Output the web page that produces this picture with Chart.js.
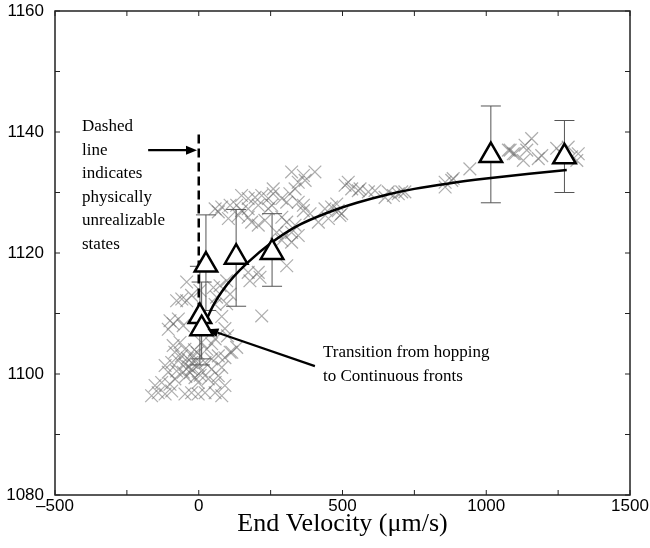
<!DOCTYPE html>
<html>
<head>
<meta charset="utf-8">
<script src="https://cdn.jsdelivr.net/npm/chart.js@4"></script>
<style>
  body { margin: 0; background: #fff; }
  canvas { display: block; }
</style>
</head>
<body>
<canvas id="chart" width="650" height="548"></canvas>
<script>
// axis ticks
const xTickValues = [-500, 0, 500, 1000, 1500];
const xTickLabels = ['\u2013500', '0', '500', '1000', '1500'];
const yTickValues = [1080, 1100, 1120, 1140, 1160];
const yTickLabels = ['1080', '1100', '1120', '1140', '1160'];

// averaged points (triangles) with error bars
const triX = [4, 10, 25, 130, 255, 1016, 1272];
const triY = [1109.5, 1107.5, 1118, 1119.3, 1120.1, 1136.1, 1135.9];
const errLow = [1101.5, 1102.5, 1110.5, 1111.2, 1114.5, 1128.3, 1130.0];
const errHigh = [1117.8, 1115.2, 1126.3, 1127.2, 1126.5, 1144.3, 1141.9];

// fitted curve
const fitX = [18, 30, 50, 80, 120, 170, 250, 340, 450, 550, 650, 750, 870, 1000, 1150, 1280];
const fitY = [1108.2, 1109.3, 1111.3, 1113.6, 1116.0, 1118.4, 1121.6, 1124.4, 1126.7, 1128.3, 1129.6, 1130.6, 1131.5, 1132.3, 1133.1, 1133.7];

// dashed line at zero velocity
const dashX = [0, 0];
const dashY = [1108, 1140];

// raw measurements (gray crosses)
const crossX = [
  -59, -42, -25, -106, -89, -71, -54, -89, -65, -48, -83,
  -117, -94, -71, -48, -25, -2, 22, 45, 68, 91, 115,
  -106, -77, -54, -25, 10, 45, 80, -83, -13, 33, 68,
  -152, -129, -100, -164, -141, -117, -94, -48, -25, -2, 22, 57, 80,
  -2, 57, 91, 10, 28, 45, 57, 109, 132,
  -40, -20, -10, -35, -5, -60, -30, 5, -45, -15,
  -77, -100, -42, 4, 51, 62, 109, 97, 74, 97, 172, 207, 213, 178, 306, 289, 323, 346,
  57, 91, 80, 100, 219,
  323, 364, 404, 346, 370, 259, 259, 335, 317, 149, 172, 196, 219, 242, 289, 306, 346, 364,
  80, 109, 132, 149, 172, 207, 242, 254, 103, 138, 172, 184, 207, 230, 289, 306, 335, 364, 387,
  271, 300, 323, 439, 462, 485, 416, 451, 491, 509, 532, 555, 520, 590, 613, 659, 694, 717,
  857, 880, 57, 68, 480, 497, 561, 648, 677, 706, 857, 885, 943,
  1083, 1100, 1129, 1141, 1077, 1094, 1135, 1158, 1181, 1193, 1245, 1262, 1285, 1297, 1315, 1320
];
const crossY = [
  1112.4, 1112.1, 1113.0, 1107.4, 1108.3, 1109.1, 1108.0, 1104.7, 1105.2, 1104.1, 1103.6,
  1101.4, 1101.9, 1102.2, 1101.6, 1101.9, 1101.4, 1101.9, 1102.5, 1103.0, 1102.7, 1103.6,
  1100.3, 1100.5, 1100.3, 1100.8, 1100.5, 1100.8, 1101.1, 1099.2, 1099.4, 1099.2, 1099.7,
  1098.1, 1098.6, 1098.3, 1096.4, 1096.9, 1096.7, 1097.2, 1096.7, 1096.9, 1096.7, 1096.9, 1096.9, 1096.4,
  1098.6, 1098.6, 1098.1, 1105.2, 1104.1, 1105.0, 1105.8, 1103.6, 1104.4,
  1102.6, 1103.1, 1102.2, 1101.2, 1103.5, 1103.0, 1100.2, 1099.8, 1099.6, 1104.0,
  1112.1, 1108.8, 1115.2, 1113.8, 1114.3, 1112.7, 1113.2, 1111.6, 1114.6, 1115.4, 1116.8, 1116.8, 1116.0, 1115.4, 1117.9, 1122.1, 1123.4, 1122.9,
  1111.5, 1107.5, 1109.5, 1106.3, 1109.6,
  1133.4, 1132.8, 1133.4, 1131.7, 1132.0, 1130.6, 1129.8, 1130.6, 1129.8, 1129.5, 1129.0, 1129.2, 1129.5, 1129.0, 1129.0, 1128.4, 1128.4, 1127.9,
  1127.6, 1127.9, 1127.9, 1127.0, 1127.3, 1127.9, 1127.3, 1127.9, 1125.7, 1126.2, 1125.9, 1125.1, 1124.6, 1125.4, 1125.9, 1125.1, 1124.6, 1127.0, 1126.5,
  1123.4, 1122.9, 1121.8, 1127.3, 1127.6, 1127.0, 1125.1, 1125.7, 1126.2, 1131.2, 1130.6, 1130.3, 1131.7, 1130.1, 1130.3, 1130.1, 1129.8, 1130.1,
  1131.7, 1132.0, 1127.3, 1126.8, 1128.1, 1126.5, 1130.6, 1129.2, 1129.5, 1130.1, 1130.9, 1132.3, 1133.9,
  1137.0, 1136.4, 1135.3, 1137.0, 1137.0, 1136.4, 1137.8, 1138.9, 1135.6, 1136.1, 1137.3, 1136.4, 1137.5, 1135.9, 1135.3, 1136.4
];

const noteLeft = ['Dashed', 'line', 'indicates', 'physically', 'unrealizable', 'states'];
const noteRight = ['Transition from hopping', 'to Continuous fronts'];
const xTitle = 'End Velocity (\u03bcm/s)';

// annotation layout (data units)
const arrows = [
  { from: [-176, 1137], to: [-6, 1137] },
  { from: [404, 1101.3], to: [30, 1107.4] }
];

const toPts = (xs, ys) => xs.map((v, i) => ({ x: v, y: ys[i] }));

const decor = {
  id: 'decor',
  afterDatasetDraw(chart, args) {
    if (args.index !== 3) return;
    const { ctx, scales: { x, y } } = chart;
    ctx.save();
    ctx.strokeStyle = '#555';
    ctx.lineWidth = 1;
    triX.forEach((v, i) => {
      const px = x.getPixelForValue(v);
      const lo = y.getPixelForValue(errLow[i]);
      const hi = y.getPixelForValue(errHigh[i]);
      ctx.beginPath();
      ctx.moveTo(px, lo); ctx.lineTo(px, hi);
      ctx.moveTo(px - 10, lo); ctx.lineTo(px + 10, lo);
      ctx.moveTo(px - 10, hi); ctx.lineTo(px + 10, hi);
      ctx.stroke();
    });
    ctx.restore();
  },
  afterDraw(chart) {
    const { ctx, chartArea: a, scales: { x, y } } = chart;
    ctx.save();

    // frame
    ctx.strokeStyle = '#222';
    ctx.lineWidth = 1.5;
    ctx.strokeRect(a.left, a.top, a.right - a.left, a.bottom - a.top);

    // inward ticks on all sides
    ctx.lineWidth = 1;
    ctx.beginPath();
    for (let v = -500; v <= 1500; v += 250) {
      const px = x.getPixelForValue(v);
      ctx.moveTo(px, a.bottom); ctx.lineTo(px, a.bottom - 5);
      ctx.moveTo(px, a.top); ctx.lineTo(px, a.top + 5);
    }
    for (let v = 1080; v <= 1160; v += 10) {
      const py = y.getPixelForValue(v);
      ctx.moveTo(a.left, py); ctx.lineTo(a.left + 5, py);
      ctx.moveTo(a.right, py); ctx.lineTo(a.right - 5, py);
    }
    ctx.stroke();

    // arrows
    ctx.strokeStyle = '#000';
    ctx.fillStyle = '#000';
    ctx.lineWidth = 2.2;
    arrows.forEach(ar => {
      const x0 = x.getPixelForValue(ar.from[0]), y0 = y.getPixelForValue(ar.from[1]);
      const x1 = x.getPixelForValue(ar.to[0]), y1 = y.getPixelForValue(ar.to[1]);
      const ang = Math.atan2(y1 - y0, x1 - x0);
      const len = 11, hw = 4.5;
      const bx = x1 - len * Math.cos(ang), by = y1 - len * Math.sin(ang);
      ctx.beginPath();
      ctx.moveTo(x0, y0); ctx.lineTo(bx, by);
      ctx.stroke();
      ctx.beginPath();
      ctx.moveTo(x1, y1);
      ctx.lineTo(bx + hw * Math.sin(ang), by - hw * Math.cos(ang));
      ctx.lineTo(bx - hw * Math.sin(ang), by + hw * Math.cos(ang));
      ctx.closePath();
      ctx.fill();
    });

    // notes
    ctx.font = '17px "Liberation Serif", serif';
    ctx.textAlign = 'left';
    ctx.textBaseline = 'alphabetic';
    noteLeft.forEach((t, i) => ctx.fillText(t, 82, 131 + i * 23.5));
    noteRight.forEach((t, i) => ctx.fillText(t, 323, 357 + i * 24));

    // axis title
    ctx.font = '26px "Liberation Serif", serif';
    ctx.textAlign = 'center';
    ctx.fillText(xTitle, (a.left + a.right) / 2, 531);
    ctx.restore();
  }
};

new Chart(document.getElementById('chart'), {
  type: 'scatter',
  data: {
    datasets: [
      {
        label: 'Averages',
        data: toPts(triX, triY),
        pointStyle: 'triangle',
        pointRadius: 13,
        borderColor: '#000',
        backgroundColor: '#fff',
        borderWidth: 2.5,
        order: 0
      },
      {
        label: 'Fit',
        type: 'line',
        data: toPts(fitX, fitY),
        borderColor: '#000',
        borderWidth: 2.5,
        pointRadius: 0,
        cubicInterpolationMode: 'monotone',
        fill: false,
        order: 1
      },
      {
        label: 'Unrealizable',
        type: 'line',
        data: toPts(dashX, dashY),
        borderColor: '#000',
        borderWidth: 2.5,
        borderDash: [9, 5],
        pointRadius: 0,
        fill: false,
        order: 1
      },
      {
        label: 'Measurements',
        data: toPts(crossX, crossY),
        pointStyle: 'crossRot',
        pointRadius: 9,
        borderColor: 'rgba(105,105,105,0.55)',
        borderWidth: 1.2,
        order: 3
      }
    ]
  },
  options: {
    responsive: false,
    animation: false,
    layout: { autoPadding: false, padding: { top: 11, right: 20, left: 0, bottom: 0 } },
    plugins: { legend: { display: false }, tooltip: { enabled: false } },
    scales: {
      x: {
        type: 'linear',
        min: -500, max: 1500,
        afterFit: s => { s.height = 53; s.paddingLeft = 0; s.paddingRight = 0; },
        afterBuildTicks: s => { s.ticks = xTickValues.map(v => ({ value: v })); },
        grid: { display: false, drawTicks: false },
        border: { display: false },
        ticks: {
          padding: 1,
          color: '#000',
          font: { family: '"Liberation Sans", Arial, sans-serif', size: 17 },
          callback: v => xTickLabels[xTickValues.indexOf(v)]
        }
      },
      y: {
        type: 'linear',
        min: 1080, max: 1160,
        afterFit: s => { s.width = 55; s.paddingTop = 0; s.paddingBottom = 0; },
        afterBuildTicks: s => { s.ticks = yTickValues.map(v => ({ value: v })); },
        grid: { display: false, drawTicks: false },
        border: { display: false },
        ticks: {
          padding: 11,
          color: '#000',
          font: { family: '"Liberation Sans", Arial, sans-serif', size: 17 },
          callback: v => yTickLabels[yTickValues.indexOf(v)]
        }
      }
    }
  },
  plugins: [decor]
});
</script>
</body>
</html>
